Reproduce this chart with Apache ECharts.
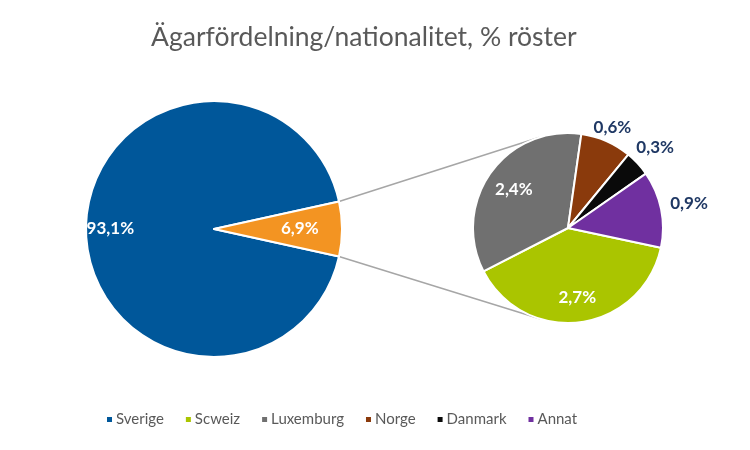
<!DOCTYPE html>
<html><head><meta charset="utf-8">
<script src="https://cdn.jsdelivr.net/npm/echarts@6/dist/echarts.min.js"></script>
<style>html,body{margin:0;padding:0;background:#fff}#c{width:750px;height:450px}</style>
</head><body><div id="c"></div>
<script>
// ---- data ----
const titleText = 'Ägarfördelning/nationalitet, % röster';
const mainNames = ['Sverige', 'Övriga'];
const mainValues = [93.1, 6.9];
const subNames = ['Scweiz', 'Luxemburg', 'Norge', 'Danmark', 'Annat'];
const subValues = [2.7, 2.4, 0.6, 0.3, 0.9];

// ---- styling / layout ----
const mainColors = ['#00579A', '#F39422'];
const subColors = ['#AAC500', '#707070', '#8A3A0C', '#0A0A0A', '#7030A0'];
const mainCenter = [214, 229], mainR = 128;
const subCenter = [568, 228], subR = 95;
const mainLabelR = [0.81, 0.67];
const subLabelR = [0.74, 0.7, 1.16, 1.25, 1.3];
const subLabelDark = [false, false, true, true, true];
const font = 'Lato, "Open Sans", sans-serif';

const mainTotal = mainValues.reduce((a, b) => a + b, 0);
const mainStart = -(mainValues[1] / mainTotal) * 180; // centre the small slice at 3 o'clock
const subStart = -12;

function midAngles(values, start) {
  const tot = values.reduce((a, b) => a + b, 0);
  let cum = 0;
  return values.map(v => { const a = start - (cum + v / 2) / tot * 360; cum += v; return a; });
}
const mainMid = midAngles(mainValues, mainStart);
const subMid = midAngles(subValues, subStart);
const fmt = v => v.toFixed(1).replace('.', ',') + '%';

function layoutFor(center, r, mids, factors) {
  return function (p) {
    const a = mids[p.dataIndex] * Math.PI / 180;
    const f = factors[p.dataIndex];
    return { x: center[0] + Math.cos(a) * r * f, y: center[1] - Math.sin(a) * r * f, align: 'center', verticalAlign: 'middle' };
  };
}

// connector lines: from edges of the small slice to tangent points on the secondary pie
function connectors() {
  const half = (mainValues[1] / mainTotal) * Math.PI;
  const out = [];
  [1, -1].forEach(s => {
    const P = [mainCenter[0] + mainR * Math.cos(half), mainCenter[1] - s * mainR * Math.sin(half)];
    const dx = subCenter[0] - P[0], dy = subCenter[1] - P[1];
    const d = Math.hypot(dx, dy);
    const base = Math.atan2(dy, dx);
    const off = Math.asin(subR / d);
    const ang = base - s * off;
    const L = Math.sqrt(d * d - subR * subR);
    out.push({ type: 'line', silent: true, z: 0,
      shape: { x1: P[0], y1: P[1], x2: P[0] + L * Math.cos(ang), y2: P[1] + L * Math.sin(ang) },
      style: { stroke: '#A6A6A6', lineWidth: 1.5 } });
  });
  return out;
}

const chart = echarts.init(document.getElementById('c'));
chart.setOption({
  animation: false,
  title: { text: titleText, left: 146, top: 19,
    textStyle: { fontFamily: font, fontSize: 26.5, fontWeight: 'normal', color: '#595959' } },
  legend: {
    data: [mainNames[0]].concat(subNames),
    bottom: 18, left: 100, itemWidth: 7, itemHeight: 7, itemGap: 20, icon: 'rect',
    textStyle: { fontFamily: font, fontSize: 15, color: '#595959', padding: [0, 0, 0, -2] }
  },
  graphic: connectors(),
  series: [
    { type: 'pie', center: mainCenter, radius: [0, mainR], startAngle: mainStart, clockwise: true,
      data: mainNames.map((n, i) => ({ name: n, value: mainValues[i], itemStyle: { color: mainColors[i] } })),
      itemStyle: { borderColor: '#fff', borderWidth: 2 },
      label: { show: true, position: 'inside', formatter: p => fmt(p.value),
        fontFamily: font, fontSize: 17, fontWeight: 'bold', color: '#fff' },
      labelLine: { show: false },
      labelLayout: layoutFor(mainCenter, mainR, mainMid, mainLabelR),
      emphasis: { disabled: true }
    },
    { type: 'pie', center: subCenter, radius: [0, subR], startAngle: subStart, clockwise: true,
      data: subNames.map((n, i) => ({ name: n, value: subValues[i], itemStyle: { color: subColors[i] },
        label: { color: subLabelDark[i] ? '#1F3864' : '#fff' } })),
      itemStyle: { borderColor: '#fff', borderWidth: 2 },
      label: { show: true, position: 'inside', formatter: p => fmt(p.value),
        fontFamily: font, fontSize: 17, fontWeight: 'bold' },
      labelLine: { show: false },
      labelLayout: layoutFor(subCenter, subR, subMid, subLabelR),
      emphasis: { disabled: true }
    }
  ]
});
</script></body></html>
